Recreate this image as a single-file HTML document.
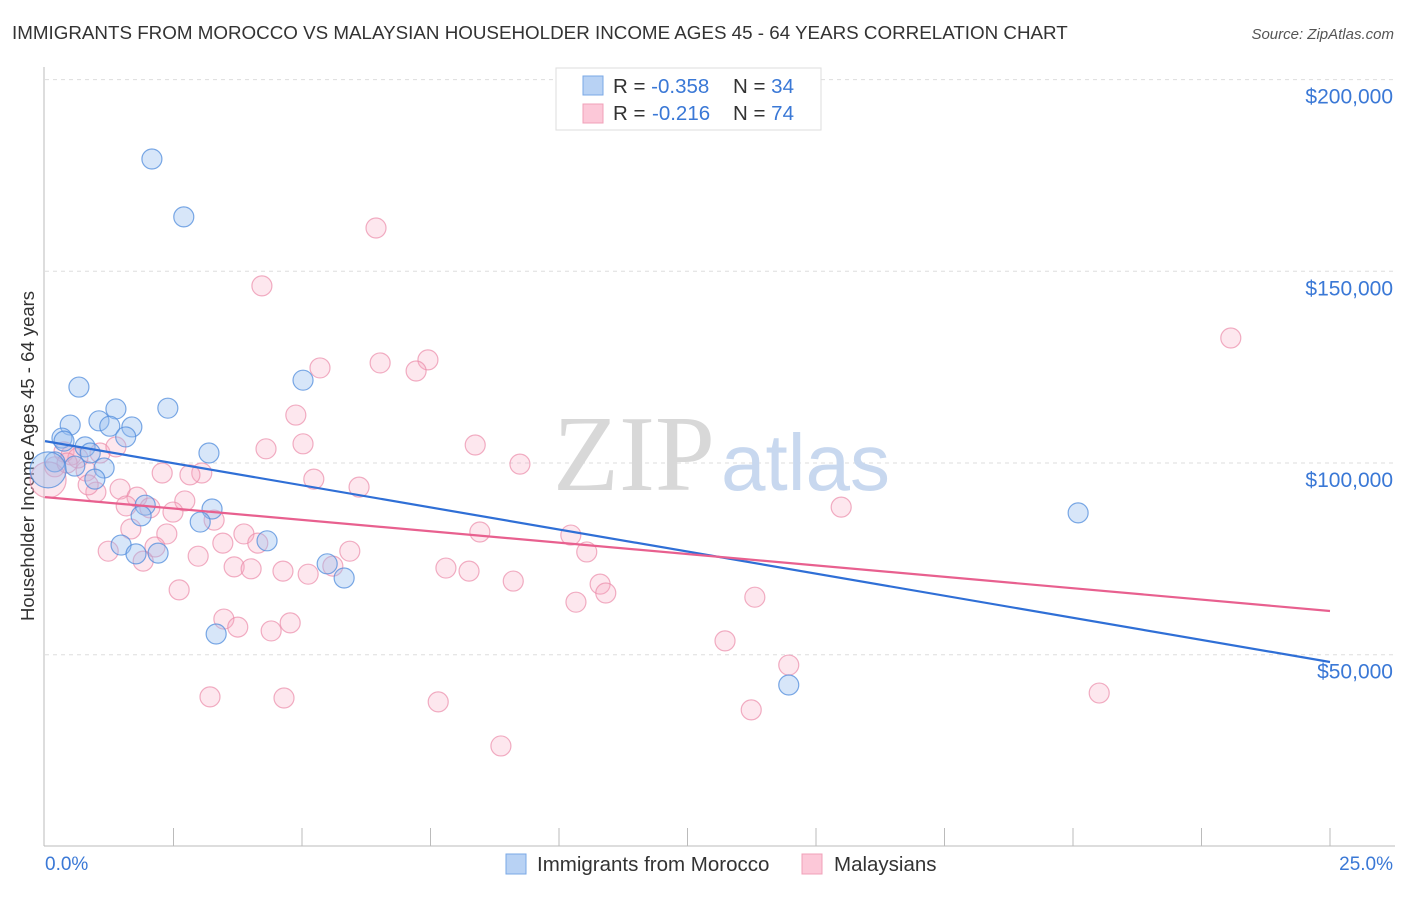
<!DOCTYPE html>
<html><head><meta charset="utf-8"><style>
body{margin:0;background:#fff;font-family:"Liberation Sans",sans-serif}
svg text{font-family:"Liberation Sans",sans-serif}
</style></head><body>
<svg width="1406" height="892" viewBox="0 0 1406 892" xmlns="http://www.w3.org/2000/svg">
<text x="12" y="39" font-size="18.8" fill="#333">IMMIGRANTS FROM MOROCCO VS MALAYSIAN HOUSEHOLDER INCOME AGES 45 - 64 YEARS CORRELATION CHART</text>
<text x="1394" y="39" font-size="15" fill="#555" text-anchor="end" font-style="italic">Source: ZipAtlas.com</text>
<g id="grid"></g>
<text x="553" y="490" font-size="108" fill="#d8d8d8" font-family="Liberation Serif"><tspan fill="#d8d8d8" font-family="Liberation Serif">ZIP</tspan><tspan fill="#c8d8ef" font-family="Liberation Sans" font-size="80" dx="6">atlas</tspan></text>
<line x1="44" y1="67" x2="44" y2="846" stroke="#bbb"/>
<line x1="44" y1="846" x2="1395" y2="846" stroke="#bbb"/>
<g id="ticks"></g>
<text x="45" y="870" font-size="19" fill="#3a78d6">0.0%</text>
<text x="1393" y="870" font-size="19" fill="#3a78d6" text-anchor="end">25.0%</text>
<text transform="translate(34,456) rotate(-90)" font-size="18.5" fill="#333" text-anchor="middle">Householder Income Ages 45 - 64 years</text>
<g id="pts"></g>
<g id="trend"></g>
<g>
<rect x="556" y="68" width="265" height="62" fill="#fff" stroke="#ddd"/>
<rect x="583" y="76" width="20" height="19" fill="#b8d2f4" stroke="#7aa8e6"/>
<rect x="583" y="104" width="20" height="19" fill="#fcc8d8" stroke="#f0a0b8"/>
<text x="613" y="93" font-size="20.5" fill="#333">R = <tspan fill="#3a78d6">-0.358</tspan><tspan x="733">N = </tspan><tspan fill="#3a78d6">34</tspan></text>
<text x="613" y="120" font-size="20.5" fill="#333">R = <tspan fill="#3a78d6" x="652">-0.216</tspan><tspan x="733">N = </tspan><tspan fill="#3a78d6">74</tspan></text>
</g>
<g>
<rect x="506" y="854" width="20" height="20" fill="#b8d2f4" stroke="#7aa8e6"/>
<text x="537" y="871" font-size="20.5" fill="#333">Immigrants from Morocco</text>
<rect x="802" y="854" width="20" height="20" fill="#fcc8d8" stroke="#f0a0b8"/>
<text x="834" y="871" font-size="20.5" fill="#333">Malaysians</text>
</g>
</svg>
<script>
const yTicks=[50000,100000,150000,200000];
const yTickLabels=["$50,000","$100,000","$150,000","$200,000"];
const blueX=[2.08,2.70,0.66,5.02,2.39,1.38,0.49,1.05,1.26,1.69,1.57,0.33,0.37,0.78,0.88,3.19,1.15,0.58,0.19,0.97,1.95,3.25,1.87,3.02,4.32,1.48,1.77,2.20,5.49,5.82,3.33,14.47,20.10,0.06];
const blueY=[179.3,164.2,119.8,121.6,114.3,114.1,109.9,111.0,109.6,109.4,106.8,106.5,105.7,104.2,102.6,102.6,98.7,99.2,100.3,95.8,89.0,88.0,86.2,84.6,79.7,78.6,76.3,76.5,73.7,70.0,55.4,42.1,87.0,98.2];
const pinkX=[6.44,4.22,23.07,6.52,7.45,7.22,5.35,4.88,5.02,4.30,8.37,9.24,2.28,3.05,2.82,5.23,6.11,0.80,0.99,1.46,1.79,2.72,2.04,1.58,2.49,15.49,3.29,1.67,2.37,8.46,10.23,3.87,4.14,3.46,2.14,5.93,1.23,2.98,1.91,10.54,3.68,4.01,4.63,5.12,7.80,8.25,5.60,9.11,10.80,10.91,2.61,10.33,13.81,3.48,3.75,4.77,4.40,13.23,14.47,20.51,3.21,4.65,7.65,13.74,8.87,0.37,0.51,1.07,0.64,0.19,1.38,0.84,0.06,0.43];
const pinkY=[161.3,146.2,132.6,126.1,126.9,124.0,124.8,112.5,105.0,103.7,104.7,99.7,97.4,97.4,96.9,95.8,93.7,97.9,92.4,93.2,91.1,90.1,88.3,88.8,87.2,88.5,85.1,82.8,81.5,82.0,81.2,81.5,79.1,79.1,78.1,77.0,77.0,75.7,74.4,76.8,72.9,72.4,71.8,71.0,72.6,71.8,73.1,69.2,68.4,66.1,66.9,63.7,65.0,59.3,57.2,58.3,56.2,53.6,47.3,40.0,39.0,38.7,37.7,35.6,26.2,102.9,102.1,102.6,101.3,99.0,104.2,94.3,95.6,100.0];
const blueTrend=[105.7,48.1];
const pinkTrend=[91.1,61.4];
const NS="http://www.w3.org/2000/svg";
const xs=v=>45+v*51.4;
const ys=k=>463-(k-100)*3.834;
function mk(t,a,p){const e=document.createElementNS(NS,t);for(const k in a)e.setAttribute(k,a[k]);p.appendChild(e);return e;}
const grid=document.getElementById('grid');
yTicks.forEach((v,i)=>{const y=ys(v/1000);
const l=mk('line',{x1:45,x2:1395,y1:y,y2:y,stroke:'#ddd','stroke-dasharray':'4,4'},grid);


const t=mk('text',{x:1393,y:y+24,'font-size':21,fill:'#3a78d6','text-anchor':'end'},grid);
t.textContent=yTickLabels[i];

});
const tk=document.getElementById('ticks');
for(let i=1;i<=10;i++){const x=xs(i*2.5);const l=mk('line',{x1:x,x2:x,y1:828,y2:846,stroke:'#bbb'},tk);

}
const pts=document.getElementById('pts');
function draw(X,Y,fill,stroke,name){X.forEach((x,i)=>{const r=(x<0.1)?18:10;
const c=mk('circle',{cx:xs(x),cy:ys(Y[i]),r:r,fill:fill,stroke:stroke,'stroke-width':1.2},pts);

});}
draw(pinkX,pinkY,'rgba(248,170,195,0.28)','rgba(235,140,170,0.7)','point-malaysians');
draw(blueX,blueY,'rgba(150,190,240,0.38)','rgba(80,140,220,0.75)','point-morocco');
const tr=document.getElementById('trend');
const lb=mk('line',{x1:xs(0),y1:ys(blueTrend[0]),x2:xs(25),y2:ys(blueTrend[1]),stroke:'#2f6fd6','stroke-width':2.2},tr);


const lp=mk('line',{x1:xs(0),y1:ys(pinkTrend[0]),x2:xs(25),y2:ys(pinkTrend[1]),stroke:'#e8608f','stroke-width':2.2},tr);


</script>
</body></html>
